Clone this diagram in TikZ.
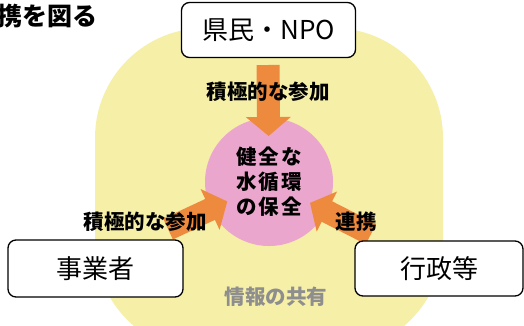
\documentclass[tikz,border=0pt]{standalone}
\usepackage{fontspec}
\setmainfont{Noto Sans CJK JP}
\newfontfamily\spacedfont[LetterSpace=10]{Noto Sans CJK JP}
\usetikzlibrary{arrows.meta}
\definecolor{blobyellow}{HTML}{F6EFA8}
\definecolor{goalpink}{HTML}{EBA6CD}
\definecolor{arroworange}{HTML}{EE8A3E}
\definecolor{sharegray}{HTML}{8E8E8E}

\begin{document}
\begin{tikzpicture}[x=1pt,y=-1pt,
  actor/.style={draw,line width=1.3pt,rounded corners=8pt,fill=white,minimum width=174pt,minimum height=55pt,font=\fontsize{26}{26}\selectfont},
  flow/.style={line width=23pt,arroworange,-{Triangle[width=44pt,length=19pt]},shorten >=46pt},
  tag/.style={font=\bfseries\fontsize{20.5}{20.5}\selectfont}]
\useasboundingbox (0,0) rectangle (524,325);
\fill[blobyellow,rounded corners=110pt] (95,28) rectangle (443,352);
\node[circle,fill=goalpink,minimum size=128pt,inner sep=0pt,align=center,font=\spacedfont\bfseries\fontsize{20.5}{25}\selectfont] (goal) at (269,182) {健全な\\水循環\\の保全};
\coordinate (topTail) at (268,65);
\coordinate (bizTail) at (168,229);
\coordinate (govTail) at (371,234);
\draw[flow] (topTail) -- (goal.center);
\draw[flow] (bizTail) -- (goal.center);
\draw[flow] (govTail) -- (goal.center);
\node[tag] (topTag) at (268,92) {積極的な参加};
\node[tag] (bizTag) at (145,222) {積極的な参加};
\node[tag] (govTag) at (356,222) {連携};
\node[tag,text=sharegray] (share) at (276,297) {情報の共有};
\node[font=\bfseries\fontsize{25}{25}\selectfont,anchor=east] (title) at (101,16) {携を図る};
\node[actor] (npo) at (268.5,30) {県民・NPO};
\node[actor,minimum width=175pt,minimum height=57pt] (biz) at (95.5,268.5) {事業者};
\node[actor,minimum width=168pt] (gov) at (439,268.5) {行政等};
\end{tikzpicture}
\end{document}
